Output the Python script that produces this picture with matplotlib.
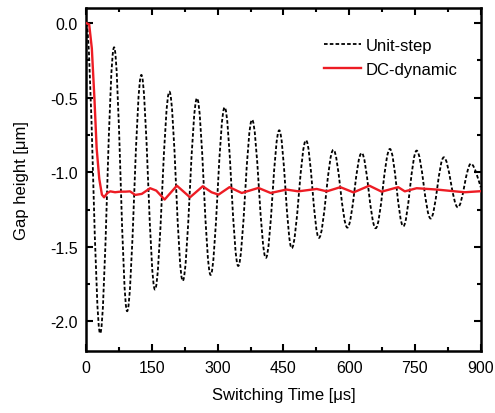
import matplotlib
matplotlib.use("Agg")
import matplotlib.pyplot as plt
from matplotlib.path import Path
from matplotlib.patches import PathPatch
from matplotlib.lines import Line2D
from matplotlib.ticker import MultipleLocator

plt.rcParams['font.family'] = ['Liberation Sans', 'DejaVu Sans']

# unit-step response: turning points (time in us, gap in um)
step_t = [0, 32, 63.8, 93.5, 126, 157, 190, 220.4, 253, 284, 316, 347, 378.5, 410,
          440.5, 469, 501.6, 531, 564, 596, 628.5, 660.5, 693, 723.5, 754, 786,
          816, 848, 878, 900]
step_v = [0.0, -2.08, -0.163, -1.931, -0.348, -1.786, -0.46, -1.728, -0.504, -1.688,
          -0.565, -1.628, -0.648, -1.574, -0.719, -1.509, -0.786, -1.44, -0.85, -1.371,
          -0.871, -1.375, -0.844, -1.362, -0.855, -1.31, -0.9, -1.235, -0.942, -1.10]

# DC-dynamic response
dc_t = [0, 7, 13, 19, 24, 30, 36, 41, 48, 55, 66, 78, 90, 100, 112, 127, 146, 160,
        179, 207, 237, 266, 286, 302, 327, 355, 393, 421, 457, 484, 526, 549, 580,
        610, 646, 674, 712, 727, 754, 800, 849, 864, 900]
dc_v = [0, -0.01, -0.17, -0.51, -0.84, -1.045, -1.15, -1.168, -1.14, -1.128, -1.134,
        -1.13, -1.13, -1.128, -1.152, -1.145, -1.107, -1.123, -1.183, -1.09, -1.168,
        -1.094, -1.134, -1.15, -1.10, -1.139, -1.105, -1.139, -1.116, -1.128, -1.112,
        -1.128, -1.10, -1.135, -1.09, -1.13, -1.10, -1.128, -1.107, -1.116, -1.13,
        -1.134, -1.127]

xticks = [0, 150, 300, 450, 600, 750, 900]
yticks = [0.0, -0.5, -1.0, -1.5, -2.0]

red = '#ed1c24'

fig = plt.figure(figsize=(4.95, 4.14), dpi=100)
ax = fig.add_axes([0.174, 0.149, 0.797, 0.829])

# smooth path through the turning points (bezier, flat tangents at the peaks)
verts = [(step_t[0], step_v[0])]
codes = [Path.MOVETO]
for i in range(1, len(step_t)):
    d = (step_t[i] - step_t[i-1]) * 0.363
    p2 = (step_t[i] - d, step_v[i]) if i < len(step_t) - 1 else (step_t[i], step_v[i])
    verts += [(step_t[i-1] + d, step_v[i-1]), p2, (step_t[i], step_v[i])]
    codes += [Path.CURVE4] * 3
ax.add_patch(PathPatch(Path(verts, codes), fill=False, edgecolor='black',
                       lw=1.3, linestyle=(0, (2, 1.2)), zorder=2))

ax.plot(dc_t, dc_v, color=red, lw=1.7, zorder=3)

ax.set_xlim(0, 900)
ax.set_ylim(-2.2, 0.1)
ax.set_xticks(xticks)
ax.set_yticks(yticks)
ax.set_yticklabels(['%.1f' % v for v in yticks])
ax.xaxis.set_minor_locator(MultipleLocator(75))
ax.yaxis.set_minor_locator(MultipleLocator(0.25))
ax.tick_params(which='both', direction='in', top=True, right=True, width=1.5,
               labelsize=11.5)
ax.tick_params(which='major', length=5)
ax.tick_params(which='minor', length=3)
ax.tick_params(axis='x', pad=6)
ax.tick_params(axis='y', pad=6)
for s in ax.spines.values():
    s.set_linewidth(1.8)

ax.set_xlabel('Switching Time [\u03bcs]', fontsize=12, labelpad=9)
ax.set_ylabel('Gap height [\u03bcm]', fontsize=12, labelpad=15)

handles = [Line2D([], [], color='black', lw=1.3, linestyle=(0, (2, 1.2))),
           Line2D([], [], color=red, lw=1.7)]
ax.legend(handles, ['Unit-step', 'DC-dynamic'], loc='upper left',
          bbox_to_anchor=(0.603, 0.912), frameon=False, fontsize=12,
          handlelength=2.2, handletextpad=0.3, labelspacing=0.5,
          borderpad=0, borderaxespad=0)

fig.savefig('out.png', dpi=100)
